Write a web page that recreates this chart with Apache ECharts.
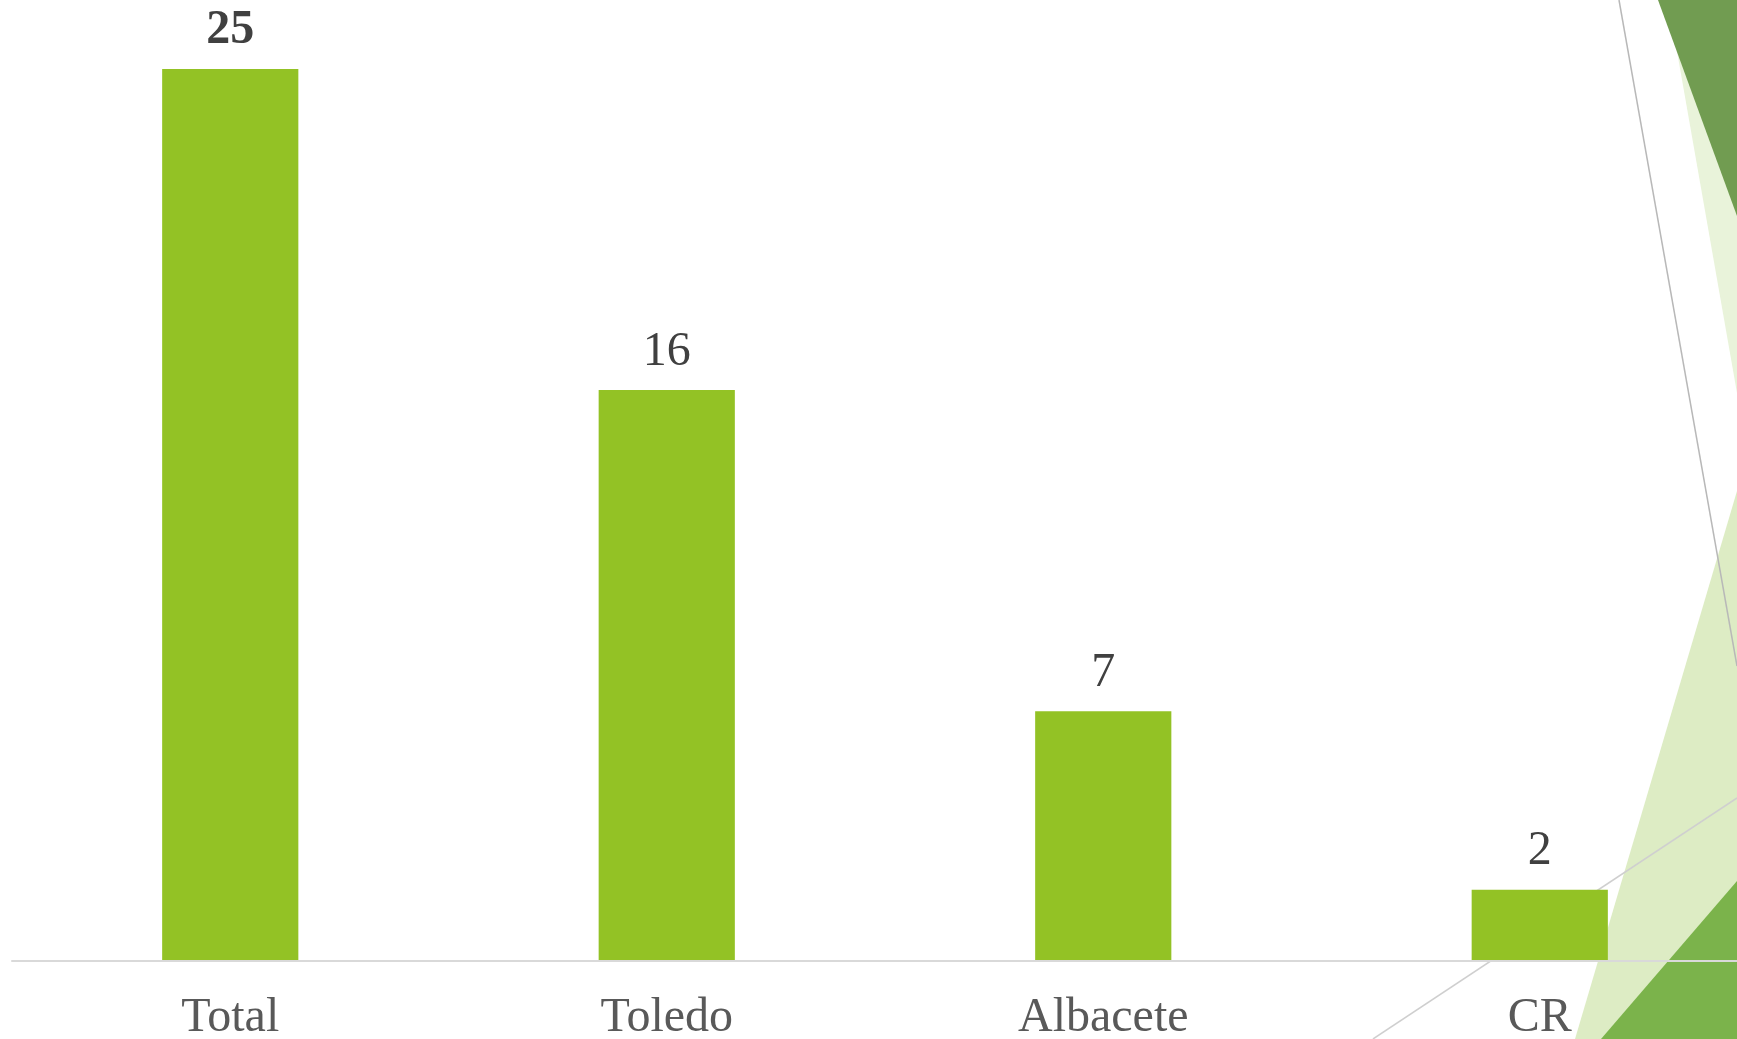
<!DOCTYPE html>
<html>
<head>
<meta charset="utf-8">
<script src="https://cdn.jsdelivr.net/npm/echarts@6/dist/echarts.min.js"></script>
<style>
  html, body { margin: 0; padding: 0; background: #ffffff; }
  #chart { width: 1737px; height: 1039px; }
</style>
</head>
<body>
<div id="chart"></div>
<script>
// chart data
const categories = ["Total", "Toledo", "Albacete", "CR"];
const values = [25, 16, 7, 2];

const barColor = "#93c225";

let myChart = echarts.init(document.getElementById("chart"));

// slide theme decoration on the right side
const decoration = [
  { type: "polygon", shape: { points: [[1668, 0], [1737, 0], [1737, 393]] }, style: { fill: "#e9f3da" } },
  { type: "polygon", shape: { points: [[1658, 0], [1737, 0], [1737, 216]] }, style: { fill: "#719c51" } },
  { type: "polygon", shape: { points: [[1737, 491], [1737, 1039], [1575, 1039]] }, style: { fill: "#ddecc4" } },
  { type: "polygon", shape: { points: [[1737, 881], [1737, 1039], [1601, 1039]] }, style: { fill: "#7bb34b" } },
  { type: "line", shape: { x1: 1619, y1: 0, x2: 1737, y2: 666 }, style: { stroke: "#b8b8b8", lineWidth: 1.5 } },
  { type: "line", shape: { x1: 1373, y1: 1039, x2: 1737, y2: 798 }, style: { stroke: "#cfcfcf", lineWidth: 1.5 } },
];

let option = {
  animation: false,
  backgroundColor: "#ffffff",
  graphic: { elements: decoration.map((e) => Object.assign({ z: -10, silent: true }, e)) },
  grid: {
    left: 12,
    width: 1746,
    top: 69,
    bottom: 78,
    outerBoundsMode: "none",
  },
  xAxis: {
    type: "category",
    data: categories,
    z: 5,
    axisTick: { show: false },
    axisLine: { lineStyle: { color: "#d9d9d9", width: 2 } },
    axisLabel: {
      fontFamily: "Liberation Serif",
      fontSize: 48,
      color: "#595959",
      margin: 33,
    },
  },
  yAxis: {
    type: "value",
    min: 0,
    max: 25,
    show: false,
  },
  series: [
    {
      type: "bar",
      barWidth: "31.2%",
      itemStyle: { color: barColor },
      label: {
        show: true,
        position: "top",
        distance: 14,
        fontFamily: "Liberation Serif",
        fontSize: 48,
        color: "#404040",
      },
      data: values.map((v, i) =>
        i === 0 ? { value: v, label: { fontWeight: "bold" } } : v
      ),
    },
  ],
};

myChart.setOption(option);
</script>
</body>
</html>
